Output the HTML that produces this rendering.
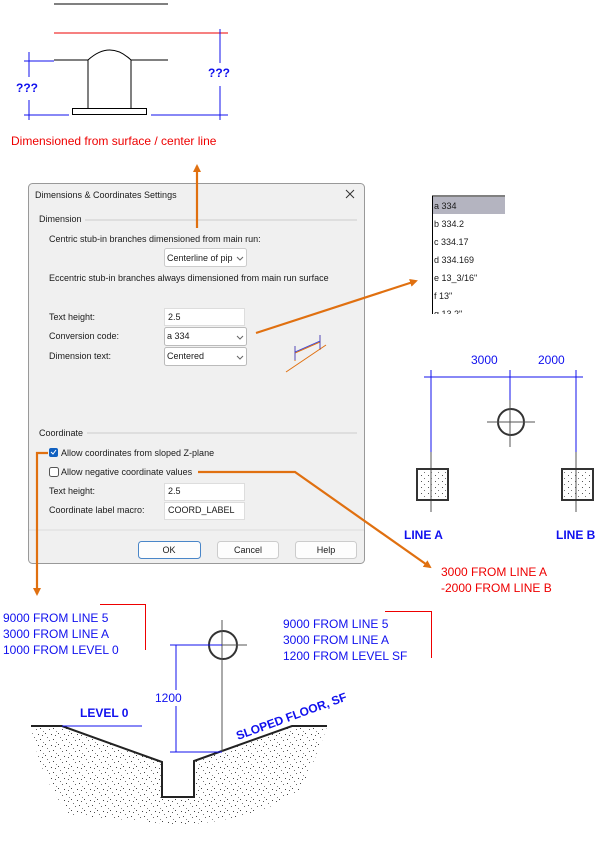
<!DOCTYPE html>
<html><head><meta charset="utf-8"><style>
body{margin:0;background:#fff;width:600px;height:842px;overflow:hidden}
svg{display:block}
.d{font-family:"Liberation Sans",sans-serif;font-size:9px;fill:#1a1a1a}
.b{font-family:"Liberation Sans",sans-serif;font-size:12px;fill:#1010ee}
.r{font-family:"Liberation Sans",sans-serif;font-size:12px;fill:#ee0000}
</style></head><body>
<svg width="600" height="842" viewBox="0 0 600 842">
<defs>
<pattern id="st" width="13" height="11" patternUnits="userSpaceOnUse">
<rect x="1" y="2" width="1" height="1" fill="#444"/><rect x="6" y="7" width="1" height="1" fill="#444"/>
<rect x="10" y="3" width="1" height="1" fill="#666"/><rect x="3" y="9" width="1" height="1" fill="#555"/>
<rect x="8" y="0" width="1" height="1" fill="#777"/><rect x="12" y="8" width="1" height="1" fill="#444"/>
<rect x="4" y="5" width="1" height="1" fill="#888"/>
</pattern>
<pattern id="st2" width="7" height="6" patternUnits="userSpaceOnUse">
<rect x="1" y="1" width="1" height="1" fill="#555"/><rect x="4" y="4" width="1" height="1" fill="#777"/>
</pattern>
<marker id="ar" markerWidth="8" markerHeight="8" refX="6" refY="4" orient="auto" markerUnits="userSpaceOnUse"><path d="M0,0 L8,4 L0,8 Z" fill="#e07010"/></marker>
</defs>

<!-- top diagram -->
<line x1="54" y1="4" x2="168" y2="4" stroke="#000"/>
<line x1="54" y1="33" x2="228" y2="33" stroke="#e00"/>
<path d="M54,60 H88 M131,60 H168 M88,60 Q110,40 131,60 M88,60 V108 M131,60 V108" stroke="#000" fill="none"/>
<rect x="72.5" y="108.5" width="74" height="6" fill="none" stroke="#000"/>
<path d="M29,52 V77 M29,100 V120 M24,61 H54 M24,115 H69 M220,29 V63 M220,86 V120 M151,115 H228" stroke="#1010ee" fill="none"/>
<text x="16" y="92" class="b" font-weight="bold" font-size="13">???</text>
<text x="208" y="77" class="b" font-weight="bold" font-size="13">???</text>
<text x="11" y="145" class="r">Dimensioned from surface / center line</text>

<!-- dialog -->
<rect x="28.5" y="183.5" width="336" height="380" rx="4" fill="#f0f0f0" stroke="#999"/>
<text x="35" y="198" class="d">Dimensions &amp; Coordinates Settings</text>
<path d="M346,190 L354,198 M354,190 L346,198" stroke="#333"/>
<text x="39" y="222" class="d">Dimension</text>
<line x1="85" y1="220" x2="357" y2="220" stroke="#ccc"/>
<text x="49" y="242" class="d">Centric stub-in branches dimensioned from main run:</text>
<rect x="164.5" y="248.5" width="82" height="18" rx="2" fill="#fff" stroke="#ccc"/>
<text x="167" y="261" class="d">Centerline of pip</text>
<text x="49" y="281" class="d">Eccentric stub-in branches always dimensioned from main run surface</text>
<text x="49" y="320" class="d">Text height:</text>
<rect x="164.5" y="308.5" width="80" height="17" fill="#fff" stroke="#ddd"/>
<text x="168" y="320" class="d">2.5</text>
<text x="49" y="339" class="d">Conversion code:</text>
<rect x="164.5" y="327.5" width="82" height="18" rx="2" fill="#fff" stroke="#bbb"/>
<text x="167" y="339" class="d">a 334</text>
<text x="49" y="359" class="d">Dimension text:</text>
<rect x="164.5" y="347.5" width="82" height="18" rx="2" fill="#fff" stroke="#bbb"/>
<text x="167" y="359" class="d">Centered</text>
<path d="M237,257 l3,3 l3,-3 M237,336 l3,3 l3,-3 M237,356 l3,3 l3,-3" stroke="#666" fill="none"/>
<path d="M286,372 L326,345 M295,346 V361 M320,335 V350 M295,353 L320,342" stroke="#e07010" fill="none"/>
<path d="M295,346 V360 M320,335 V349 M295,352 L320,341" stroke="#3040e0" fill="none" stroke-width="0.8"/>
<text x="39" y="436" class="d">Coordinate</text>
<line x1="87" y1="433" x2="357" y2="433" stroke="#ccc"/>
<rect x="49" y="448" width="9" height="9" rx="2" fill="#1060c0"/>
<path d="M51,452 l2,2 l3,-4" stroke="#fff" fill="none"/>
<text x="61" y="456" class="d">Allow coordinates from sloped Z-plane</text>
<rect x="49.5" y="467.5" width="9" height="9" rx="2" fill="#fff" stroke="#555"/>
<text x="61" y="475" class="d">Allow negative coordinate values</text>
<text x="49" y="494" class="d">Text height:</text>
<rect x="164.5" y="483.5" width="80" height="17" fill="#fff" stroke="#ddd"/>
<text x="168" y="494" class="d">2.5</text>
<text x="49" y="513" class="d">Coordinate label macro:</text>
<rect x="164.5" y="502.5" width="80" height="17" fill="#fff" stroke="#ddd"/>
<text x="168" y="513" class="d">COORD_LABEL</text>
<line x1="29" y1="530" x2="364" y2="530" stroke="#ddd"/>
<rect x="138.5" y="541.5" width="62" height="17" rx="3" fill="#fdfdfd" stroke="#4a86c8"/>
<text x="169" y="553" class="d" text-anchor="middle">OK</text>
<rect x="217.5" y="541.5" width="61" height="17" rx="3" fill="#fdfdfd" stroke="#ccc"/>
<text x="248" y="553" class="d" text-anchor="middle">Cancel</text>
<rect x="295.5" y="541.5" width="61" height="17" rx="3" fill="#fdfdfd" stroke="#ccc"/>
<text x="326" y="553" class="d" text-anchor="middle">Help</text>

<!-- orange connectors -->
<g stroke="#e07010" stroke-width="2.2" fill="none">
<path d="M197,228 V166" marker-end="url(#ar)"/>
<path d="M256,333 L416,281" marker-end="url(#ar)"/>
<path d="M198,472 H295 L430,567" marker-end="url(#ar)"/>
<path d="M48,453 H37 V594" marker-end="url(#ar)"/>
</g>

<!-- list -->
<line x1="432" y1="196" x2="505" y2="196" stroke="#000"/>
<line x1="432.5" y1="196" x2="432.5" y2="314" stroke="#000"/>
<rect x="433" y="197" width="72" height="17" fill="#b4b4c0"/>
<g class="d" font-size="10">
<text x="434" y="209" class="d" font-size="10">a 334</text>
<text x="434" y="227" class="d" font-size="10">b 334.2</text>
<text x="434" y="245" class="d" font-size="10">c 334.17</text>
<text x="434" y="263" class="d" font-size="10">d 334.169</text>
<text x="434" y="281" class="d" font-size="10">e 13_3/16"</text>
<text x="434" y="299" class="d" font-size="10">f 13"</text>
</g>
<svg x="430" y="300" width="80" height="14"><text x="4" y="17" class="d" font-size="10">g 13.2"</text></svg>

<!-- right plan -->
<g stroke="#1010ee" fill="none">
<path d="M424,377 H583 M431,370 V452 M510,370 V400 M576,370 V452"/>
</g>
<text x="471" y="364" class="b">3000</text>
<text x="538" y="364" class="b">2000</text>
<circle cx="511" cy="422" r="13" fill="none" stroke="#333" stroke-width="2"/>
<path d="M487,422 H535 M510,400 V447 M431,452 V512 M576,452 V512" stroke="#555"/>
<rect x="417" y="469" width="31" height="31" fill="url(#st2)" stroke="#333" stroke-width="2"/>
<rect x="562" y="469" width="31" height="31" fill="url(#st2)" stroke="#333" stroke-width="2"/>
<text x="404" y="539" class="b" font-weight="bold">LINE A</text>
<text x="556" y="539" class="b" font-weight="bold">LINE B</text>
<text x="441" y="576" class="r">3000 FROM LINE A</text>
<text x="441" y="592" class="r">-2000 FROM LINE B</text>

<!-- bottom -->
<text x="3" y="622" class="b">9000 FROM LINE 5</text>
<text x="3" y="638" class="b">3000 FROM LINE A</text>
<text x="3" y="654" class="b">1000 FROM LEVEL 0</text>
<path d="M100,604.5 H145.5 V650" stroke="#e00" fill="none"/>
<text x="283" y="628" class="b">9000 FROM LINE 5</text>
<text x="283" y="644" class="b">3000 FROM LINE A</text>
<text x="283" y="660" class="b">1200 FROM LEVEL SF</text>
<path d="M385,611.5 H431.5 V658" stroke="#e00" fill="none"/>
<path d="M31,726 Q40,780 70,815 L180,825 Q260,820 300,790 Q320,750 327,726 H292 L194,761 V797 H162 V762 L62,726 Z" fill="url(#st)"/>
<path d="M31,726 H62 L162,762 V797 H194 V761 L292,726 H327" stroke="#222" stroke-width="2" fill="none"/>
<circle cx="223" cy="645" r="14" fill="none" stroke="#333" stroke-width="2"/>
<path d="M222,620 V752 M197,645 H247" stroke="#555"/>
<path d="M170,645 H222 M176,645 V690 M176,706 V752 M170,752 H222 M62,726 H142" stroke="#1010ee" fill="none"/>
<text x="155" y="702" class="b">1200</text>
<text x="80" y="717" class="b" font-weight="bold">LEVEL 0</text>
<text x="0" y="0" class="b" font-weight="bold" transform="translate(238,740) rotate(-20)">SLOPED FLOOR, SF</text>
</svg>
</body></html>
